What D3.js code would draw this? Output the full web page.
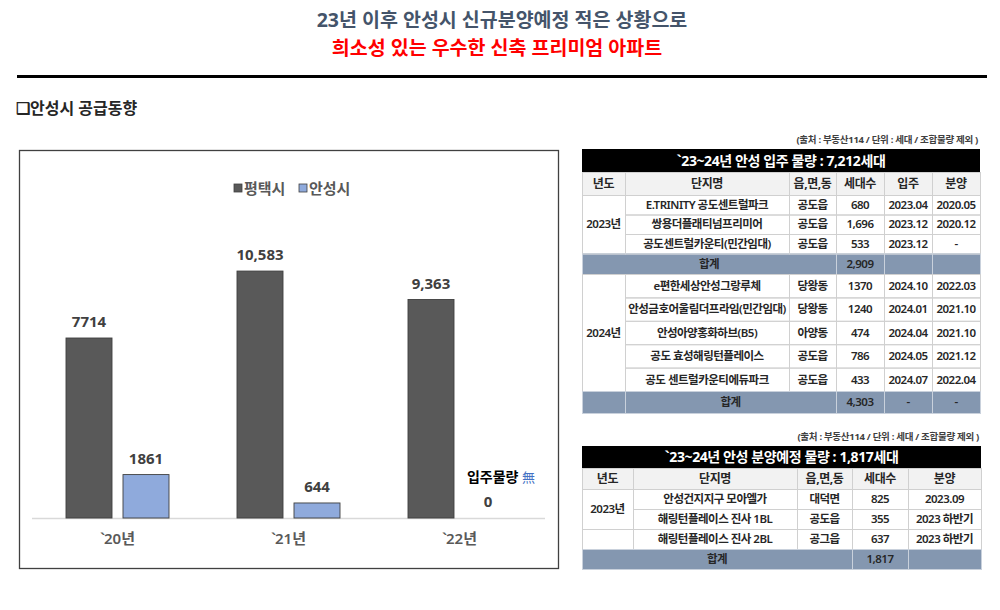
<!DOCTYPE html>
<html>
<head>
<meta charset="utf-8">
<script src="https://cdn.jsdelivr.net/npm/d3@7"></script>
<style>
  body { margin: 0; background: #fff; }
  svg text { font-family: "Noto Sans", "Noto Sans CJK KR", sans-serif; }
</style>
</head>
<body>
<div id="page"></div>
<script>
// chart data
const years = ['`20년', '`21년', '`22년']
const seriesNames = ['평택시', '안성시']
const pyeongtaek = [7714, 10583, 9363]
const anseong = [1861, 644, 0]
const pyeongtaekLabels = ['7714', '10,583', '9,363']
const anseongLabels = ['1861', '644', '0']

// table 1 : 입주 물량
const occTitle = '`23~24년 안성 입주 물량 : 7,212세대'
const occHeads = ['년도', '단지명', '읍,면,동', '세대수', '입주', '분양']
const occYears = ['2023년', '2024년']
const occYearIdx = [0, 0, 0, 1, 1, 1, 1, 1]
const occNames = ['E.TRINITY 공도센트럴파크', '쌍용더플래티넘프리미어', '공도센트럴카운티(민간임대)', 'e편한세상안성그랑루체', '안성금호어울림더프라임(민간임대)', '안성아양홍화하브(B5)', '공도 효성해링턴플레이스', '공도 센트럴카운티에듀파크']
const occTowns = ['공도읍', '공도읍', '공도읍', '당왕동', '당왕동', '아양동', '공도읍', '공도읍']
const occUnits = ['680', '1,696', '533', '1370', '1240', '474', '786', '433']
const occMoveIn = ['2023.04', '2023.12', '2023.12', '2024.10', '2024.01', '2024.04', '2024.05', '2024.07']
const occSale = ['2020.05', '2020.12', '-', '2022.03', '2021.10', '2021.10', '2021.12', '2022.04']
const occTotals = ['2,909', '4,303']
const occTotalMoveIn = ['', '-']
const occTotalSale = ['', '-']

// table 2 : 분양예정 물량
const saleTitle = '`23~24년 안성 분양예정 물량 : 1,817세대'
const saleHeads = ['년도', '단지명', '읍,면,동', '세대수', '분양']
const saleNames = ['안성건지지구 모아엘가', '해링턴플레이스 진사 1BL', '해링턴플레이스 진사 2BL']
const saleTowns = ['대덕면', '공도읍', '공그읍']
const saleUnits = ['825', '355', '637']
const saleDates = ['2023.09', '2023 하반기', '2023 하반기']
const saleTotal = '1,817'

const sourceNote = '(출처 : 부동산114 / 단위 : 세대 / 조합물량 제외 )'

const width = 1000; const height = 610
const svg = d3.select('#page').append('svg')
  .attr('width', width).attr('height', height)

// ---- header ----
svg.append('text').attr('x', 502).attr('y', 27)
  .attr('text-anchor', 'middle').style('font-size', '19.5px').style('font-weight', 700)
  .style('fill', '#44546a').text('23년 이후 안성시 신규분양예정 적은 상황으로')
svg.append('text').attr('x', 497).attr('y', 55)
  .attr('text-anchor', 'middle').style('font-size', '19.5px').style('font-weight', 700)
  .style('fill', '#ff0000').text('희소성 있는 우수한 신축 프리미엄 아파트')
svg.append('line').attr('x1', 17).attr('x2', 987).attr('y1', 76.5).attr('y2', 76.5)
  .attr('stroke', '#000').attr('stroke-width', 3)
svg.append('text').attr('x', 16).attr('y', 114)
  .style('font-size', '16px').style('font-weight', 700).style('fill', '#262626')
  .text('❑안성시 공급동향')

// ---- bar chart ----
svg.append('rect').attr('x', 19.5).attr('y', 150.5).attr('width', 539).attr('height', 418)
  .attr('fill', 'none').attr('stroke', '#404040').attr('stroke-width', 1.3)

const baseY = 518
const x0 = d3.scaleBand().domain(years).range([32, 545])
const groupW = 103
const x1 = d3.scaleBand().domain(seriesNames)
  .range([(x0.bandwidth() - groupW) / 2, (x0.bandwidth() + groupW) / 2])
  .paddingInner(11 / 57)
const y = d3.scaleLinear().domain([0, 12000]).range([baseY, baseY - 280])
const colors = { '평택시': '#595959', '안성시': '#8faadc' }

const rows = years.map((yr, i) => ({
  year: yr,
  values: [
    { key: '평택시', value: pyeongtaek[i], label: pyeongtaekLabels[i] },
    { key: '안성시', value: anseong[i], label: anseongLabels[i] }
  ]
}))

svg.append('line').attr('x1', 32).attr('x2', 545).attr('y1', baseY + 0.5).attr('y2', baseY + 0.5)
  .attr('stroke', '#d9d9d9').attr('stroke-width', 1.5)

const groups = svg.selectAll('g.year')
  .data(rows)
  .enter().append('g')
  .attr('class', 'year')
  .attr('transform', d => 'translate(' + x0(d.year) + ',0)')

groups.selectAll('rect')
  .data(d => d.values.filter(v => v.value > 0))
  .enter().append('rect')
  .attr('x', d => x1(d.key))
  .attr('width', x1.bandwidth())
  .attr('y', d => y(d.value))
  .attr('height', d => baseY - y(d.value))
  .attr('fill', d => colors[d.key])
  .attr('stroke', '#3f3f3f').attr('stroke-width', 0.9)

groups.selectAll('text.val')
  .data(d => d.values)
  .enter().append('text')
  .attr('class', 'val')
  .attr('x', d => x1(d.key) + x1.bandwidth() / 2)
  .attr('y', d => y(d.value) - 11)
  .attr('text-anchor', 'middle')
  .style('font-size', '15px').style('font-weight', 700).style('fill', '#404040')
  .text(d => d.label)

// note over the empty 안성시 bar in `22
const noteX = x0(years[2]) + x1('안성시') + x1.bandwidth() / 2 + 13
const note = svg.append('text').attr('x', noteX).attr('y', y(0) - 36)
  .attr('text-anchor', 'middle')
note.append('tspan').style('font-size', '14px').style('font-weight', 700).style('fill', '#000').text('입주물량 ')
note.append('tspan').style('font-size', '13px').style('font-weight', 400).style('fill', '#4472c4').text('無')

// x axis labels (backtick a little tighter against the digits)
const xlab = svg.selectAll('text.xlab')
  .data(years)
  .enter().append('text')
  .attr('class', 'xlab')
  .attr('x', d => x0(d) + x0.bandwidth() / 2)
  .attr('y', 544)
  .attr('text-anchor', 'middle')
  .style('font-size', '15px').style('font-weight', 600).style('fill', '#595959')
xlab.append('tspan').text(d => d.slice(0, 1))
xlab.append('tspan').attr('dx', -1).text(d => d.slice(1))

// legend
const legendX = [234, 299]
const legend = svg.selectAll('g.legend')
  .data(seriesNames)
  .enter().append('g')
  .attr('class', 'legend')
  .attr('transform', (d, i) => 'translate(' + legendX[i] + ',188)')
legend.append('rect').attr('x', 0).attr('y', -4).attr('width', 8).attr('height', 8)
  .attr('fill', d => colors[d]).attr('stroke', '#404040').attr('stroke-width', 0.8)
legend.append('text').attr('x', 10).attr('y', 5.5)
  .style('font-size', '15px').style('font-weight', 700).style('fill', '#595959')
  .text(d => d)

// ---- tables ----
// fits text into a cell, shrinking if it is too wide
function fitText (sel, maxW) {
  sel.each(function () {
    const len = this.getComputedTextLength()
    if (len > maxW) {
      d3.select(this).attr('textLength', maxW).attr('lengthAdjust', 'spacingAndGlyphs')
    }
  })
}

function drawTable (opts) {
  const g = svg.append('g')
  const cols = opts.cols
  const rowTop = [opts.top]
  opts.rowH.forEach(h => rowTop.push(rowTop[rowTop.length - 1] + h))
  const left = cols[0]; const right = cols[cols.length - 1]

  // source note
  g.append('text').attr('x', right - 2).attr('y', opts.top - 6)
    .attr('text-anchor', 'end').style('font-size', '9.5px').style('font-weight', 700)
    .style('fill', '#404040').style('letter-spacing', '-0.3px').text(sourceNote)

  // title row
  g.append('rect').attr('x', left).attr('y', rowTop[0]).attr('width', right - left)
    .attr('height', rowTop[1] - rowTop[0]).attr('fill', '#000')
  g.append('text').attr('x', (left + right) / 2).attr('y', (rowTop[0] + rowTop[1]) / 2 + 5)
    .attr('text-anchor', 'middle').style('font-size', '14px').style('font-weight', 700)
    .style('fill', '#fff').style('letter-spacing', '-0.4px').text(opts.title)

  // header row
  g.append('rect').attr('x', left).attr('y', rowTop[1]).attr('width', right - left)
    .attr('height', rowTop[2] - rowTop[1]).attr('fill', '#f2f2f2')

  // backgrounds of total rows
  opts.cells.filter(c => c.total).forEach(c => {
    g.append('rect').attr('x', cols[c.c0]).attr('y', rowTop[c.r0])
      .attr('width', cols[c.c1] - cols[c.c0]).attr('height', rowTop[c.r1] - rowTop[c.r0])
      .attr('fill', '#8497b0')
  })

  // cell borders
  opts.cells.forEach(c => {
    g.append('rect').attr('x', cols[c.c0] + 0.5).attr('y', rowTop[c.r0] + 0.5)
      .attr('width', cols[c.c1] - cols[c.c0]).attr('height', rowTop[c.r1] - rowTop[c.r0])
      .attr('fill', 'none').attr('stroke', c.total ? '#c9d1dc' : '#d0d0d0').attr('stroke-width', 1)
  })
  opts.heads.forEach((h, i) => {
    g.append('rect').attr('x', cols[i] + 0.5).attr('y', rowTop[1] + 0.5)
      .attr('width', cols[i + 1] - cols[i]).attr('height', rowTop[2] - rowTop[1])
      .attr('fill', 'none').attr('stroke', '#d0d0d0')
  })

  // header texts
  g.selectAll('text.head').data(opts.heads).enter().append('text')
    .attr('class', 'head')
    .attr('x', (d, i) => (cols[i] + cols[i + 1]) / 2)
    .attr('y', (rowTop[1] + rowTop[2]) / 2 + 4.5)
    .attr('text-anchor', 'middle').style('font-size', '12px').style('font-weight', 700)
    .style('fill', '#262626').style('letter-spacing', '-0.4px')
    .text(d => d)

  // cell texts
  const t = g.selectAll('text.cell').data(opts.cells.filter(c => c.text)).enter().append('text')
    .attr('class', 'cell')
    .attr('x', c => (cols[c.c0] + cols[c.c1]) / 2)
    .attr('y', c => (rowTop[c.r0] + rowTop[c.r1]) / 2 + 4.2)
    .attr('text-anchor', 'middle').style('font-size', '11.5px').style('font-weight', 600)
    .style('fill', '#262626').style('letter-spacing', '-0.5px')
    .text(c => c.text)
  t.each(function (c) { fitText(d3.select(this), cols[c.c1] - cols[c.c0] - 6) })
}

// table 1 cells
const occCells = []
occYears.forEach((yr, yi) => {
  const idx = occYearIdx.map((v, i) => v === yi ? i : -1).filter(i => i >= 0)
  const first = idx[0] + yi + 2
  occCells.push({ r0: first, r1: first + idx.length, c0: 0, c1: 1, text: yr })
  idx.forEach((i, k) => {
    const r = first + k
    ;[occNames[i], occTowns[i], occUnits[i], occMoveIn[i], occSale[i]].forEach((txt, c) => {
      occCells.push({ r0: r, r1: r + 1, c0: c + 1, c1: c + 2, text: txt })
    })
  })
  const tr = first + idx.length
  if (yi === 0) {
    occCells.push({ r0: tr, r1: tr + 1, c0: 0, c1: 3, text: '합계', total: true })
  } else {
    occCells.push({ r0: tr, r1: tr + 1, c0: 0, c1: 1, text: '', total: true })
    occCells.push({ r0: tr, r1: tr + 1, c0: 1, c1: 3, text: '합계', total: true })
  }
  occCells.push({ r0: tr, r1: tr + 1, c0: 3, c1: 4, text: occTotals[yi], total: true })
  occCells.push({ r0: tr, r1: tr + 1, c0: 4, c1: 5, text: occTotalMoveIn[yi], total: true })
  occCells.push({ r0: tr, r1: tr + 1, c0: 5, c1: 6, text: occTotalSale[yi], total: true })
})

drawTable({
  title: occTitle,
  heads: occHeads,
  cols: [582, 625, 789, 836, 884, 932, 980],
  top: 149,
  rowH: [23, 23, 19.5, 19.5, 19.5, 20.5, 23.4, 23.4, 23.4, 23.4, 23.4, 22],
  cells: occCells
})

// table 2 cells
const saleCells = [{ r0: 2, r1: 4, c0: 0, c1: 1, text: '2023년' }, { r0: 4, r1: 5, c0: 0, c1: 1, text: '' }]
saleNames.forEach((n, i) => {
  ;[n, saleTowns[i], saleUnits[i], saleDates[i]].forEach((txt, c) => {
    saleCells.push({ r0: i + 2, r1: i + 3, c0: c + 1, c1: c + 2, text: txt })
  })
})
saleCells.push({ r0: 5, r1: 6, c0: 0, c1: 3, text: '합계', total: true })
saleCells.push({ r0: 5, r1: 6, c0: 3, c1: 4, text: saleTotal, total: true })
saleCells.push({ r0: 5, r1: 6, c0: 4, c1: 5, text: '', total: true })

drawTable({
  title: saleTitle,
  heads: saleHeads,
  cols: [582, 633, 797, 852, 908, 981],
  top: 446,
  rowH: [22, 21, 20, 20, 20, 20],
  cells: saleCells
})
</script>
</body>
</html>
